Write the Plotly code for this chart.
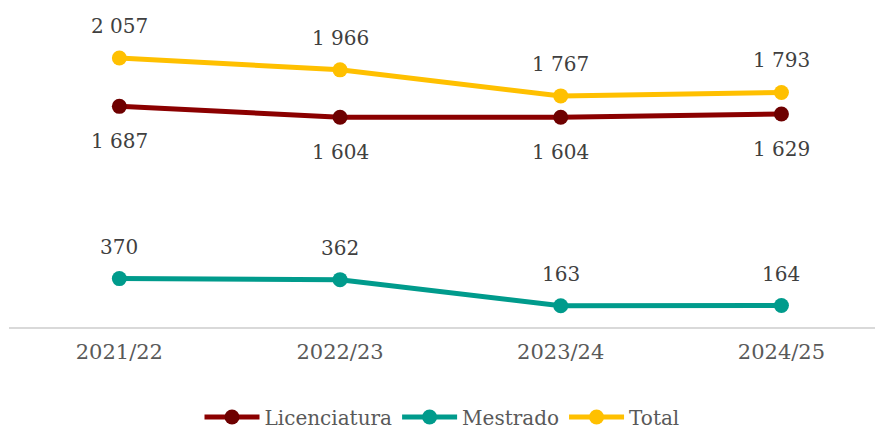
import plotly.graph_objects as go

categories = ["2021/22", "2022/23", "2023/24", "2024/25"]
licenciatura = [1687, 1604, 1604, 1629]
mestrado = [370, 362, 163, 164]
total = [2057, 1966, 1767, 1793]

FONT = "DejaVu Serif"

def fmt(v):
    return f"{v:,}".replace(",", " ")

fig = go.Figure()
series = [
    ("Licenciatura", licenciatura, "#8B0000", "#6E0000", -35),
    ("Mestrado", mestrado, "#009B8C", "#009B8C", 32),
    ("Total", total, "#FFC000", "#FFC000", 32),
]
annotations = []
for name, vals, lc, mc, shift in series:
    fig.add_trace(go.Scatter(
        x=categories, y=vals, name=name, mode="lines+markers",
        line=dict(color=lc, width=5),
        marker=dict(color=mc, size=15),
    ))
    for c, v in zip(categories, vals):
        annotations.append(dict(
            x=c, y=v, text=fmt(v), showarrow=False, yshift=shift,
            font=dict(family=FONT, size=20, color="#404040"),
        ))

fig.update_layout(
    width=875, height=429,
    margin=dict(l=9, r=0, t=0, b=102, autoexpand=False),
    paper_bgcolor="white", plot_bgcolor="white",
    annotations=annotations,
    showlegend=True,
    legend=dict(orientation="h", xanchor="center", x=0.5, yanchor="bottom", y=-0.335,
                font=dict(family=FONT, size=20, color="#595959"),
                itemwidth=55, tracegroupgap=0, borderwidth=0),
    xaxis=dict(type="category", range=[-0.5, 3.424], showgrid=False, automargin=False,
               showline=True, linecolor="#D9D9D9", linewidth=2,
               ticks="outside", ticklen=5, tickcolor="rgba(0,0,0,0)",
               tickfont=dict(family=FONT, size=21, color="#595959"),
               fixedrange=True),
    yaxis=dict(range=[0, 2500], visible=False, showgrid=False, zeroline=False, automargin=False),
)

fig.write_html("out.html", config={"displayModeBar": False},
               post_script="document.body.style.margin='0';document.body.style.overflow='hidden';")
